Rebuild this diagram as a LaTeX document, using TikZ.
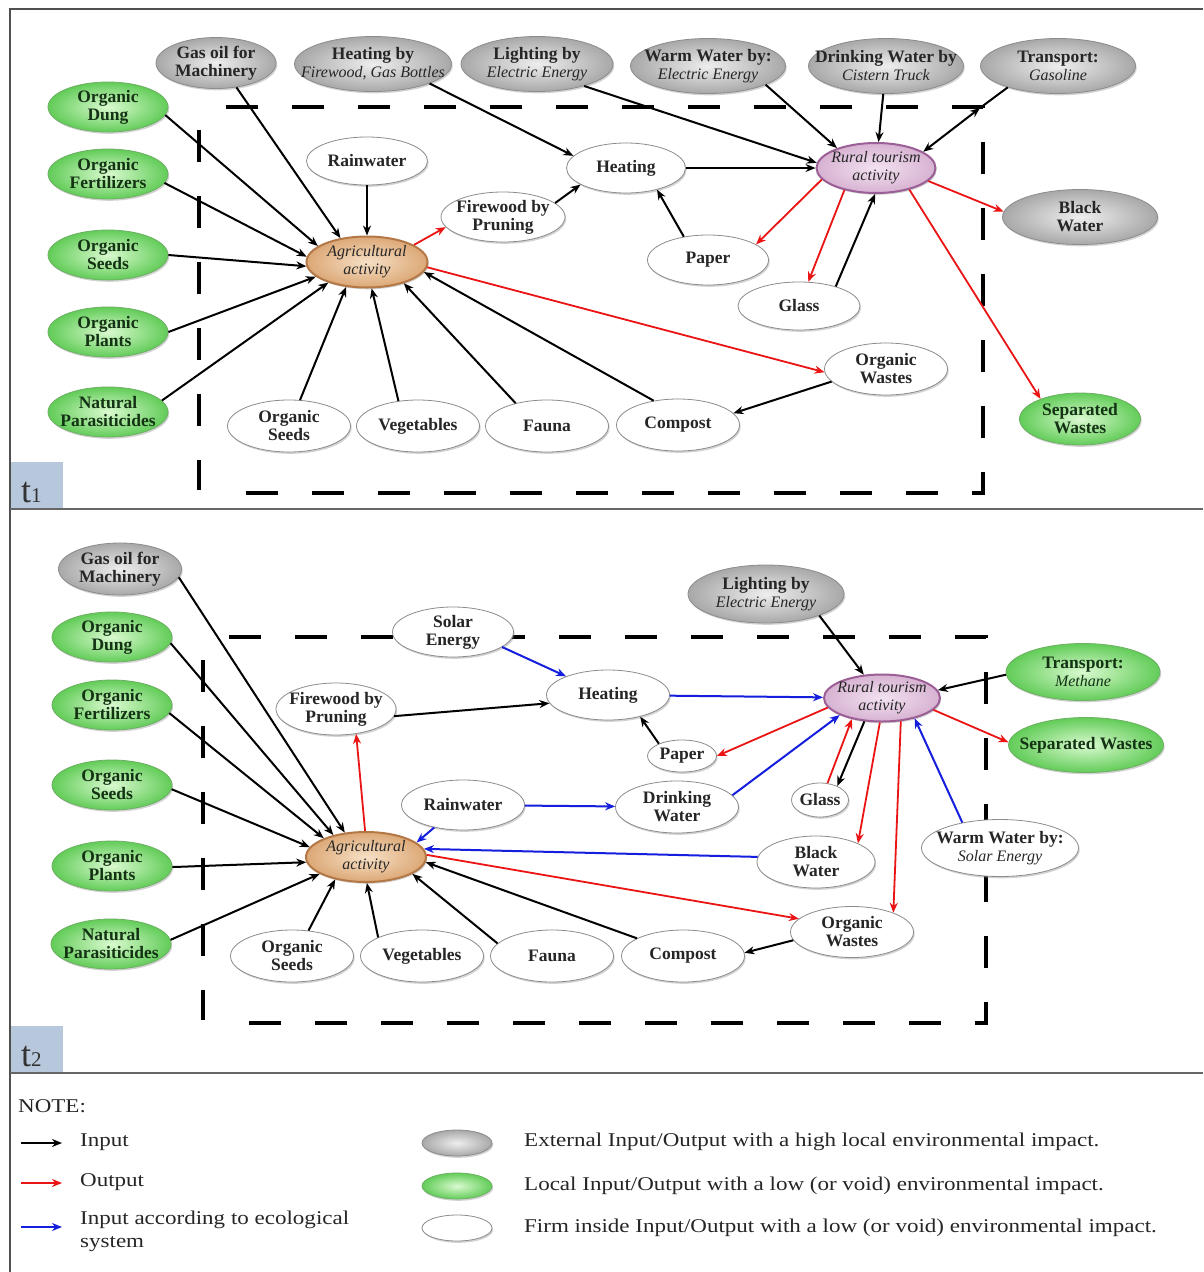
\documentclass[tikz,border=0pt]{standalone}
\usepackage{fontspec}
\setmainfont{Liberation Serif}
\newfontfamily\legfont{Liberation Serif}[FakeStretch=1.18]
\usetikzlibrary{shapes.geometric,arrows.meta,shadows}

\definecolor{frameC}{RGB}{80,80,80}
\definecolor{tboxC}{RGB}{184,200,220}
\definecolor{grayIn}{RGB}{238,238,238}
\definecolor{grayOut}{RGB}{168,168,168}
\definecolor{grayLine}{RGB}{140,140,140}
\definecolor{greenIn}{RGB}{218,250,208}
\definecolor{greenOut}{RGB}{98,204,88}
\definecolor{greenLine}{RGB}{110,175,100}
\definecolor{greenText}{RGB}{20,50,20}
\definecolor{agriIn}{RGB}{246,224,198}
\definecolor{agriOut}{RGB}{220,168,118}
\definecolor{agriLine}{RGB}{180,120,70}
\definecolor{ruralIn}{RGB}{242,226,240}
\definecolor{ruralOut}{RGB}{215,178,210}
\definecolor{ruralLine}{RGB}{155,95,150}
\definecolor{redA}{RGB}{235,20,20}
\definecolor{blueA}{RGB}{20,30,220}

\newcommand\itl[1]{{\mdseries\itshape\fontsize{16}{18}\selectfont #1}}
\newcommand\bub[7]{%
  \node[#1, minimum width=#5pt, minimum height=#6pt] (#2) at (#3,#4) {};
  \node[txt, #1txt] (#2t) at (#2) {#7};}

\tikzset{
  base/.style={ellipse, inner sep=0pt, drop shadow={opacity=0.35, shadow xshift=1.2pt, shadow yshift=-1.8pt}},
  gnode/.style={base, draw=grayLine, line width=0.8pt, inner color=grayIn, outer color=grayOut},
  lnode/.style={base, draw=greenLine, line width=0.8pt, inner color=greenIn, outer color=greenOut},
  wnode/.style={base, draw=grayLine, line width=0.8pt, fill=white},
  agri/.style={base, draw=agriLine, line width=2pt, inner color=agriIn, outer color=agriOut},
  rural/.style={base, draw=ruralLine, line width=2pt, inner color=ruralIn, outer color=ruralOut},
  gnodetxt/.style={}, wnodetxt/.style={}, agritxt/.style={}, ruraltxt/.style={},
  lnodetxt/.style={text=greenText},
  txt/.style={inner sep=0pt, align=center, text=black!85, font=\fontsize{17.5}{18}\selectfont\bfseries},
  lg/.style={inner sep=0pt, text=black!85, font=\legfont\fontsize{19.5}{23}\selectfont},
  arw/.style={line width=2pt, -{Stealth[length=10pt,width=8pt]}},
  inA/.style={arw, draw=black},
  outA/.style={arw, draw=redA, line width=1.8pt},
  ecoA/.style={arw, draw=blueA},
  bound/.style={line width=4.5pt, dash pattern=on 32pt off 34pt},
  frame/.style={draw=frameC, line width=1.5pt},
}

\begin{document}
\begin{tikzpicture}[x=1pt,y=-1pt]
\useasboundingbox (0,0) rectangle (1203,1272);
\fill[white] (0,0) rectangle (1203,1272);

% frame
\draw[frame] (10,1272) -- (10,9) -- (1203,9);
\draw[frame, draw=gray!80!black] (10,509) -- (1203,509);
\draw[frame, draw=gray!80!black] (10,1073) -- (1203,1073);
\fill[tboxC] (11,462) rectangle (63,508);
\fill[tboxC] (11,1026) rectangle (63,1072);
\node[anchor=base west, inner sep=0pt, text=black!80] (tlab1) at (21,502) {\fontsize{36}{36}\selectfont t\fontsize{21}{21}\selectfont 1};
\node[anchor=base west, inner sep=0pt, text=black!80] (tlab2) at (21,1066) {\fontsize{36}{36}\selectfont t\fontsize{21}{21}\selectfont 2};

% boundaries
\draw[bound] (226,107) -- (983,107) -- (983,493) -- (218,493);
\draw[bound] (199,130) -- (199,490);
\draw[bound] (229,637) -- (986,637) -- (986,1023) -- (222,1023);
\draw[bound] (203,660) -- (203,1020);

% ---------------- t1 nodes
\bub{gnode}{gas1}{216}{63}{120}{51}{Gas oil for\\Machinery}
\bub{gnode}{hb1}{373}{64}{157}{55}{Heating by\\\itl{Firewood, Gas Bottles}}
\bub{gnode}{lb1}{537}{64}{152}{55}{Lighting by\\\itl{Electric Energy}}
\bub{gnode}{ww1}{708}{66}{155}{55}{Warm Water by:\\\itl{Electric Energy}}
\bub{gnode}{dw1}{886}{66}{155}{55}{Drinking Water by\\\itl{Cistern Truck}}
\bub{gnode}{tr1}{1058}{66}{155}{55}{Transport:\\\itl{Gasoline}}
\bub{gnode}{bw1}{1080}{217}{155}{55}{Black\\Water}
\bub{lnode}{dung1}{108}{107}{120}{50}{Organic\\Dung}
\bub{lnode}{fert1}{108}{174}{120}{50}{Organic\\Fertilizers}
\bub{lnode}{seed1}{108}{255}{120}{50}{Organic\\Seeds}
\bub{lnode}{plant1}{108}{332}{120}{50}{Organic\\Plants}
\bub{lnode}{para1}{108}{412}{120}{50}{Natural\\Parasiticides}
\bub{lnode}{sep1}{1080}{419}{121}{52}{Separated\\Wastes}
\bub{wnode}{rain1}{367}{161}{121}{48}{Rainwater}
\bub{wnode}{fire1}{503}{217}{124}{50}{Firewood by\\Pruning}
\bub{wnode}{heat1}{626}{168}{119}{50}{Heating}
\bub{wnode}{paper1}{708}{260}{121}{50}{Paper}
\bub{wnode}{glass1}{799}{306}{122}{48}{Glass}
\bub{wnode}{waste1}{886}{369}{123}{52}{Organic\\Wastes}
\bub{wnode}{oseed1}{289}{426}{123}{52}{Organic\\Seeds}
\bub{wnode}{veg1}{418}{426}{123}{52}{Vegetables}
\bub{wnode}{fauna1}{547}{426}{123}{52}{Fauna}
\bub{wnode}{comp1}{678}{425}{123}{52}{Compost}
\bub{agri}{agri1}{367}{262}{121}{51}{\itl{Agricultural}\\\itl{activity}}
\bub{rural}{rural1}{876}{168}{119}{50}{\itl{Rural tourism}\\\itl{activity}}

% ---------------- t1 edges
\draw[inA] (dung1.-8) -- (agri1.162);
\draw[inA] (fert1.-9) -- (agri1.175);
\draw[inA] (seed1.east) -- (agri1.184);
\draw[inA] (plant1.east) -- (agri1.196);
\draw[inA] (para1.12) -- (agri1.208);
\draw[inA] (gas1.-50) -- (agri1.138);
\draw[inA] (rain1.south) -- (agri1.north);
\draw[inA] (oseed1.67) -- (agri1.230);
\draw[inA] (veg1.128) -- (agri1.280);
\draw[inA] (fauna1.144) -- (agri1.330);
\draw[inA] (comp1.135) -- (agri1.350);
\draw[outA] (agri1.20) -- (fire1.190);
\draw[outA] (agri1.-5) -- (waste1.183);
\draw[inA] (fire1.15) -- (heat1.200);
\draw[inA] (hb1.-19) -- (heat1.167);
\draw[inA] (paper1.136) -- (heat1.325);
\draw[inA] (heat1) -- (rural1);
\draw[inA] (lb1.-25) -- (rural1.175);
\draw[inA] (ww1.-18) -- (rural1.153);
\draw[inA] (dw1) -- (rural1);
\coordinate (trc1) at (980,108);
\draw[line width=2pt, {Stealth[length=10pt,width=8pt]}-{Stealth[length=10pt,width=8pt]}] (rural1.19.5) -- (trc1);
\draw[line width=2pt] (trc1) -- (tr1.203);
\draw[outA] (rural1.192) -- (paper1.18);
\draw[outA] (rural1.215) -- (glass1.69);
\draw[inA] (glass1.28) -- (rural1.268);
\draw[outA] (rural1.346) -- (bw1.176);
\draw[outA] (rural1.327) -- (sep1.153);
\draw[inA] (waste1.193) -- (comp1.12);

% ---------------- t2 nodes
\bub{gnode}{gas2}{120}{569}{123}{52}{Gas oil for\\Machinery}
\bub{gnode}{lb2}{766}{594}{156}{58}{Lighting by\\\itl{Electric Energy}}
\bub{lnode}{dung2}{112}{637}{120}{50}{Organic\\Dung}
\bub{lnode}{fert2}{112}{705}{120}{50}{Organic\\Fertilizers}
\bub{lnode}{seed2}{112}{785}{120}{50}{Organic\\Seeds}
\bub{lnode}{plant2}{112}{866}{120}{50}{Organic\\Plants}
\bub{lnode}{para2}{111}{944}{120}{50}{Natural\\Parasiticides}
\bub{lnode}{tr2}{1083}{672}{154}{57}{Transport:\\\itl{Methane}}
\bub{lnode}{sep2}{1086}{745}{155}{55}{Separated Wastes}
\bub{wnode}{solar2}{453}{632}{121}{50}{Solar\\Energy}
\bub{wnode}{fire2}{336}{709}{120}{52}{Firewood by\\Pruning}
\bub{wnode}{heat2}{608}{695}{123}{50}{Heating}
\bub{wnode}{paper2}{682}{756}{69}{32}{Paper}
\bub{wnode}{rain2}{463}{805}{123}{50}{Rainwater}
\bub{wnode}{drink2}{677}{807}{123}{52}{Drinking\\Water}
\bub{wnode}{glass2}{820}{800}{57}{34}{Glass}
\bub{wnode}{bw2}{816}{862}{118}{52}{Black\\Water}
\bub{wnode}{warm2}{1000}{848}{157}{57}{Warm Water by:\\\itl{Solar Energy}}
\bub{wnode}{waste2}{852}{932}{123}{51}{Organic\\Wastes}
\bub{wnode}{oseed2}{292}{956}{123}{52}{Organic\\Seeds}
\bub{wnode}{veg2}{422}{956}{123}{52}{Vegetables}
\bub{wnode}{fauna2}{552}{956}{123}{52}{Fauna}
\bub{wnode}{comp2}{683}{956}{123}{52}{Compost}
\bub{agri}{agri2}{366}{857}{120}{50}{\itl{Agricultural}\\\itl{activity}}
\bub{rural}{rural2}{882}{698}{116}{47}{\itl{Rural tourism}\\\itl{activity}}

% ---------------- t2 edges
\draw[inA] (gas2.-8) -- (agri2.131);
\draw[inA] (dung2.-6) -- (agri2.146);
\draw[inA] (fert2.-8) -- (agri2.156);
\draw[inA] (seed2.-4) -- (agri2.170);
\draw[inA] (plant2.-1) -- (agri2.185);
\draw[inA] (para2.4) -- (agri2.200);
\draw[inA] (oseed2.57) -- (agri2.216);
\draw[inA] (veg2.157) -- (agri2.272);
\draw[inA] (fauna2.167) -- (agri2.340);
\draw[inA] (comp2.159) -- (agri2.355);
\draw[outA] (agri2.2) -- (waste2.166);
\draw[ecoA] (bw2.175) -- (agri2.8);
\draw[ecoA] (rain2.218) -- (agri2.16);
\draw[outA] (agri2.92) -- (fire2.309);
\draw[inA] (fire2.-7) -- (heat2.188);
\draw[ecoA] (solar2.-17) -- (heat2.156);
\draw[ecoA] (heat2) -- (rural2);
\draw[inA] (paper2.152) -- (heat2.326);
\draw[outA] (rural2.190) -- (paper2.0);
\draw[ecoA] (rain2) -- (drink2);
\draw[ecoA] (drink2.12) -- (rural2.202);
\draw[outA] (glass2.66) -- (rural2.215);
\draw[inA] (rural2.233) -- (glass2.39);
\draw[outA] (rural2.265) -- (bw2.24);
\draw[outA] (rural2.309) -- (waste2.25);
\draw[ecoA] (warm2.146) -- (rural2.328);
\draw[outA] (rural2.347) -- (sep2.178);
\draw[inA] (tr2.182) -- (rural2.8);
\draw[inA] (lb2.-22) -- (rural2.128);
\draw[inA] (waste2.188) -- (comp2.3);

% ---------------- legend
\node[lg, anchor=west] (note) at (18,1106) {NOTE:};
\coordinate (la1) at (21,1143); \coordinate (lb1c) at (62,1143);
\coordinate (la2) at (21,1183); \coordinate (lb2c) at (62,1183);
\coordinate (la3) at (21,1227); \coordinate (lb3c) at (62,1227);
\draw[inA] (la1) -- (lb1c);
\draw[outA] (la2) -- (lb2c);
\draw[ecoA] (la3) -- (lb3c);
\node[lg, anchor=west] (lin) at (80,1142) {Input};
\node[lg, anchor=west] (lout) at (80,1182) {Output};
\node[lg, anchor=west, align=left] (leco) at (80,1231) {Input according to ecological\\system};
\node[gnode, minimum width=70pt, minimum height=26pt] (lgg) at (457,1143) {};
\node[lnode, minimum width=70pt, minimum height=26pt] (lgl) at (457,1186) {};
\node[wnode, minimum width=70pt, minimum height=26pt] (lgw) at (457,1228) {};
\node[lg, anchor=west] (lt1) at (524,1142) {External Input/Output with a high local environmental impact.};
\node[lg, anchor=west] (lt2) at (524,1186) {Local Input/Output with a low (or void) environmental impact.};
\node[lg, anchor=west] (lt3) at (524,1228) {Firm inside Input/Output with a low (or void) environmental impact.};
\end{tikzpicture}
\end{document}
